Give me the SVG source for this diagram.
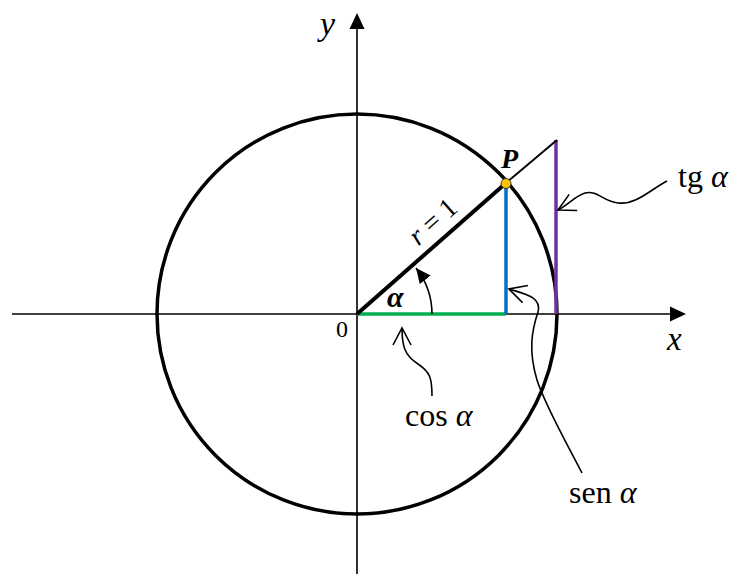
<svg xmlns="http://www.w3.org/2000/svg" width="730" height="574" viewBox="0 0 730 574">
<defs>
<style>
.ax{stroke:#000;stroke-width:1.6;fill:none}
.lbl{font-family:"Liberation Serif","DejaVu Serif",serif;fill:#000}
.it{font-style:italic}
.pt{fill:none;stroke:#000;stroke-width:1.6}
</style>
<marker id="open" markerUnits="userSpaceOnUse" markerWidth="24" markerHeight="24" refX="18" refY="12" orient="auto" viewBox="0 0 24 24"><path d="M1,3 L18,12 L1,21" fill="none" stroke="#000" stroke-width="1.6"/></marker>
<marker id="arc" markerUnits="userSpaceOnUse" markerWidth="18" markerHeight="18" refX="15" refY="7" orient="auto" viewBox="0 0 18 14"><path d="M0,0 L15,7 L0,14 Z" fill="#000"/></marker>
</defs>
<rect width="730" height="574" fill="#fff"/>
<g id="axes">
<line class="ax" x1="12" y1="314" x2="672" y2="314"/>
<path d="M670,306.5 L686,314 L670,321.5 Z" fill="#000"/>
<line class="ax" x1="357" y1="574" x2="357" y2="28"/>
<path d="M349.5,29 L357,13 L364.5,29 Z" fill="#000"/>
<text class="lbl it" x="320" y="35" font-size="34">y</text>
<text class="lbl it" x="667" y="350" font-size="33">x</text>
<text class="lbl" x="336" y="337" font-size="24">0</text>
</g>
<g id="circle">
<circle cx="357" cy="314" r="200" fill="none" stroke="#000" stroke-width="3.5"/>
</g>
<g id="lines">
<line x1="357" y1="314" x2="506" y2="314" stroke="#00B050" stroke-width="3.5"/>
<line x1="506" y1="183" x2="506" y2="314" stroke="#0070C0" stroke-width="3.5"/>
<line x1="556" y1="140" x2="556" y2="314" stroke="#7030A0" stroke-width="3.5"/>
<line x1="506" y1="183" x2="557" y2="140" stroke="#000" stroke-width="2"/>
<line x1="357" y1="314" x2="506" y2="183" stroke="#000" stroke-width="4"/>
<path d="M432,314 A75,75 0 0 0 416,268" fill="none" stroke="#000" stroke-width="1.6" marker-end="url(#arc)"/>
</g>
<g id="P">
<circle cx="506" cy="183.5" r="5" fill="#FFC000" stroke="#333" stroke-width="1"/>
<text class="lbl it" x="501" y="168" font-size="28" font-weight="bold">P</text>
</g>
<g id="alpha">
<text class="lbl it" x="387" y="307" font-size="30" font-weight="bold">α</text>
</g>
<g id="radius-label">
<text class="lbl" transform="translate(357,314) rotate(-41.5)" x="118" y="-10" font-size="28" text-anchor="middle"><tspan class="it">r</tspan> = 1</text>
</g>
<g id="connectors">
<path class="pt" d="M667,181 C650,190 636,205 618,203 C602,201 598,190 585,193 C575,196 568,205 558,210" marker-end="url(#open)"/>
<path class="pt" d="M432,396 C432,378 430,372 418,364 C404,355 402,345 402,328" marker-end="url(#open)"/>
<path class="pt" d="M582,473 C565,440 545,405 537,380 C528,350 532,330 538,312 C542,297 525,294 509,289" marker-end="url(#open)"/>
</g>
<g id="labels">
<text class="lbl" x="678" y="187" font-size="32">tg <tspan class="it">α</tspan></text>
<text class="lbl" x="405" y="426" font-size="32">cos <tspan class="it">α</tspan></text>
<text class="lbl" x="569" y="503" font-size="32">sen <tspan class="it">α</tspan></text>
</g>
</svg>
